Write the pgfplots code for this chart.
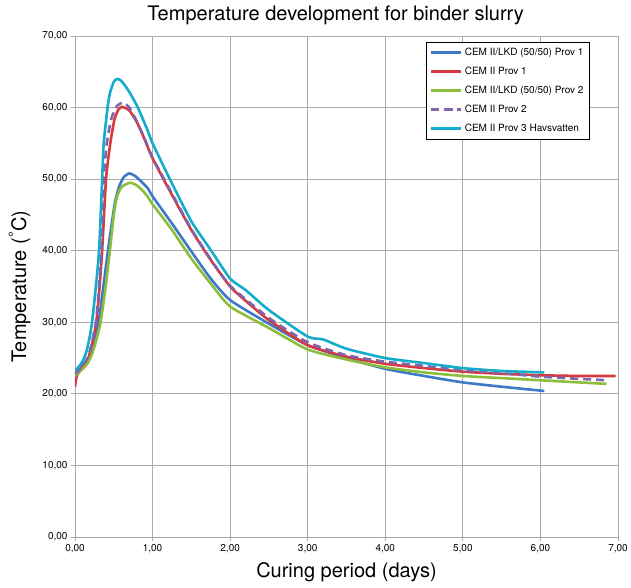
\documentclass[border=0pt]{standalone}
\usepackage{fontspec}
\setmainfont{TeX Gyre Heros}
\usepackage{pgfplots}
\pgfplotsset{compat=1.18}
\definecolor{cblue}{RGB}{60,122,200}
\definecolor{cred}{RGB}{214,58,62}
\definecolor{cgreen}{RGB}{140,190,60}
\definecolor{cpurple}{RGB}{128,100,172}
\definecolor{ccyan}{RGB}{20,172,202}
\definecolor{cgrid}{RGB}{170,170,170}
\tikzset{curve/.style={line width=2.6pt, smooth, tension=0.35}}
\begin{document}
\begin{tikzpicture}
\useasboundingbox (-75pt,-50pt) rectangle (556pt,537pt);
\begin{axis}[
  at={(0,0)}, anchor=south west,
  scale only axis, width=543pt, height=501pt,
  xmin=0, xmax=7, ymin=0, ymax=70,
  xtick={0,1,...,7}, ytick={0,10,...,70},
  grid=major,
  major grid style={cgrid, line width=0.8pt},
  axis line style={cgrid, line width=0.8pt},
  tick style={cgrid, line width=0.8pt},
  tick align=outside, tick pos=left,
  major tick length=4pt,
  /pgf/number format/.cd, fixed, fixed zerofill, precision=2, use comma, assume math mode=true,
  /pgfplots/.cd,
  ticklabel style={font=\fontsize{10}{12}\selectfont},
  title={Temperature development for binder slurry},
  title style={at={(0.48,1)}, anchor=south, yshift=2pt, font=\fontsize{20}{24}\selectfont},
  xlabel={Curing period (days)},
  ylabel={Temperature (\textsuperscript{\textdegree}C)},
  label style={font=\fontsize{20}{24}\selectfont},
  xlabel style={yshift=-3pt},
  ylabel style={yshift=5pt},
  legend cell align=left,
  legend style={at={(0.948,0.988)}, anchor=north east, draw=black, line width=0.6pt,
    font=\fontsize{10}{12}\selectfont, row sep=6pt, inner sep=4pt},
  legend image code/.code={\draw[#1] plot coordinates {(0pt,0pt) (30pt,0pt)};},
]
\addplot[cblue, curve] coordinates {
(0,22.8) (0.05,23.3) (0.1,24.0) (0.17,24.8) (0.22,26.3) (0.26,28.0) (0.305,30.0) (0.36,34.5)
(0.425,40.0) (0.49,45.0) (0.52,47.0) (0.57,49.0) (0.63,50.3) (0.70,50.8) (0.78,50.4)
(0.87,49.5) (0.94,48.7) (1.0,47.6) (1.25,43.8) (1.5,39.9) (1.75,36.1) (2.0,33.1) (2.5,29.8)
(3.0,26.8) (3.5,25.0) (4.0,23.5) (4.5,22.5) (5.0,21.6) (5.5,21.0) (6.05,20.4)};
\addlegendentry{CEM II/LKD (50/50) Prov 1}
\addplot[cred, curve] coordinates {
(0,21.0) (0.02,22.4) (0.06,23.2) (0.1,23.8) (0.16,24.7) (0.2,26.0) (0.24,28.0) (0.275,30.0)
(0.31,34.0) (0.35,40.0) (0.40,50.0) (0.455,55.0) (0.51,58.4) (0.56,59.7) (0.605,60.1)
(0.7,59.6) (0.8,57.9) (0.9,55.5) (1.0,52.9) (1.25,47.8) (1.5,42.9) (1.75,38.7) (2.0,35.0)
(2.2,33.0) (2.5,30.3) (3.0,26.8) (3.5,25.2) (4.0,24.2) (4.5,23.6) (5.0,23.1) (5.5,22.8)
(6.0,22.6) (6.5,22.5) (6.97,22.5)};
\addlegendentry{CEM II Prov 1}
\addplot[cgreen, curve] coordinates {
(0,22.5) (0.05,23.0) (0.1,23.5) (0.17,24.4) (0.22,25.6) (0.27,27.3) (0.33,30.0) (0.39,34.5)
(0.45,40.0) (0.50,45.0) (0.54,47.5) (0.6,48.9) (0.71,49.5) (0.8,49.1) (0.88,48.3)
(0.94,47.5) (1.0,46.5) (1.25,42.9) (1.5,38.9) (1.75,35.4) (2.0,32.2) (2.5,29.2)
(3.0,26.2) (3.5,24.8) (4.0,23.7) (4.5,23.0) (5.0,22.5) (5.5,22.2) (6.0,21.9) (6.5,21.6)
(6.85,21.4)};
\addlegendentry{CEM II/LKD (50/50) Prov 2}
\addplot[cpurple, curve, dash pattern=on 8pt off 5pt] coordinates {
(0,22.8) (0.05,23.3) (0.1,24.0) (0.15,24.8) (0.2,26.3) (0.24,28.3) (0.27,30.0) (0.3,33.5)
(0.34,40.0) (0.37,50.0) (0.41,55.0) (0.47,58.5) (0.54,60.2) (0.62,60.7) (0.7,60.0)
(0.8,58.0) (0.9,55.6) (1.0,53.0) (1.25,48.0) (1.5,43.0) (1.75,38.8) (2.0,35.1) (2.5,30.6)
(3.0,27.2) (3.5,25.4) (4.0,24.5) (4.5,23.9) (5.0,23.3) (5.5,22.9) (6.0,22.4) (6.5,22.1)
(6.85,21.9)};
\addlegendentry{CEM II Prov 2}
\addplot[ccyan, curve] coordinates {
(0,23.2) (0.05,23.8) (0.1,24.6) (0.15,26.0) (0.19,28.0) (0.22,30.0) (0.26,34.0) (0.31,40.0)
(0.35,50.0) (0.37,55.0) (0.42,60.0) (0.45,62.0) (0.5,63.6) (0.545,64.0) (0.6,63.7)
(0.7,62.2) (0.81,60.0) (0.94,56.7) (1.0,55.0) (1.25,49.4) (1.5,44.1) (1.75,40.1) (2.0,36.1)
(2.2,34.5) (2.5,31.7) (3.0,28.0) (3.2,27.6) (3.5,26.3) (4.0,25.0) (4.5,24.3) (5.0,23.6)
(5.5,23.2) (6.05,23.0)};
\addlegendentry{CEM II Prov 3 Havsvatten}
\end{axis}
\end{tikzpicture}
\end{document}
